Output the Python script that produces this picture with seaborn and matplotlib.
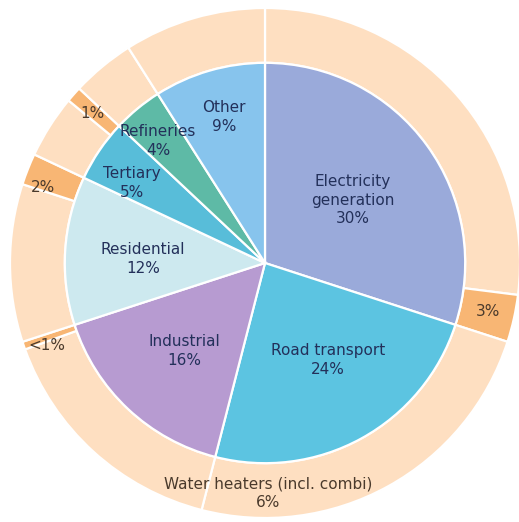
import matplotlib
matplotlib.use("Agg")
import matplotlib.pyplot as plt
import seaborn as sns
import numpy as np

sns.set_theme(style="white")
plt.rcParams['font.family'] = ['DejaVu Sans']

# ---- data ----
categories = ["Electricity\ngeneration", "Road transport", "Industrial", "Residential",
              "Tertiary", "Refineries", "Other"]
shares = [30, 24, 16, 12, 5, 4, 9]
share_labels = ["30%", "24%", "16%", "12%", "5%", "4%", "9%"]
# highlighted part of the outer ring at the end of each sector
outer_highlight = [3, 0, 0.5, 2, 1, 0, 0]
outer_labels = ["3%", "", "<1%", "2%", "1%", "", ""]
extra_label = "Water heaters (incl. combi)\n6%"

inner_colors = ["#9AAADA", "#5CC4E1", "#B79BD1", "#CDE9EF", "#58BDD9", "#5EBAA6", "#87C4ED"]
peach = "#FEDFC1"
orange = "#F8B674"

# label anchor positions (data units, pie radius = 1)
inner_pos = [(0.345, 0.247), (0.247, -0.380), (-0.318, -0.345), (-0.478, 0.016),
             (-0.522, 0.314), (-0.420, 0.478), (-0.161, 0.573)]
outer_pos = [(0.875, -0.192), None, (-0.855, -0.322), (-0.871, 0.298), (-0.678, 0.588), None, None]
extra_pos = (0.012, -0.902)

W, H = 519, 522
fig = plt.figure(figsize=(W / 100, H / 100), dpi=100)
ax = fig.add_axes([0, 0, 1, 1])
scale = 255.0
cx, cy = 265.0, 263.0

# outer ring
outer_vals, outer_cols = [], []
for s, h in zip(shares, outer_highlight):
    outer_vals.append(s - h)
    outer_cols.append(peach)
    if h > 0:
        outer_vals.append(h)
        outer_cols.append(orange)
ax.pie(outer_vals, colors=outer_cols, radius=1.0, startangle=90, counterclock=False,
       wedgeprops=dict(width=0.215, edgecolor="white", linewidth=1.6), frame=False)

# inner pie
ax.pie(shares, colors=inner_colors, radius=0.785, startangle=90, counterclock=False,
       wedgeprops=dict(edgecolor="white", linewidth=1.6), frame=False)
ax.set_xlim(-cx / scale, (W - cx) / scale)
ax.set_ylim(-(H - cy) / scale, cy / scale)
ax.set_aspect('auto')
ax.axis('off')

inner_text = "#23305A"
outer_text = "#4A3A2C"
for cat, lab, (x, y) in zip(categories, share_labels, inner_pos):
    ax.text(x, y, f"{cat}\n{lab}", ha="center", va="center", fontsize=11,
            color=inner_text, linespacing=1.3)
for lab, pos in zip(outer_labels, outer_pos):
    if pos is not None and lab:
        ax.text(pos[0], pos[1], lab, ha="center", va="center", fontsize=11, color=outer_text)
ax.text(extra_pos[0], extra_pos[1], extra_label, ha="center", va="center", fontsize=11,
        color=outer_text, linespacing=1.3)

fig.savefig("out.png", dpi=100, facecolor="white")
